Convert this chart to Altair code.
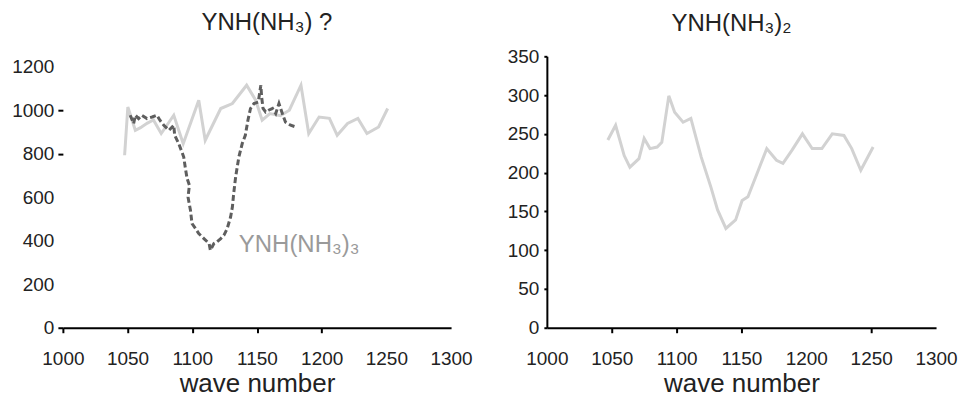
import altair as alt
import pandas as pd

# Left panel: YNH(NH3) ? (light gray solid)
left_light_x = [1047.7, 1050.2, 1056, 1060, 1065, 1070, 1076, 1085.7, 1093, 1105, 1110, 1122, 1131, 1142, 1149, 1154, 1160, 1168, 1175, 1184, 1190, 1198, 1206, 1212, 1220, 1228, 1235, 1244, 1251]
left_light_y = [793, 1015, 908, 920, 940, 955, 893, 977, 846, 1046, 862, 1008, 1031, 1115, 1046, 954, 985, 975, 1000, 1115, 893, 969, 963, 885, 939, 962, 893, 923, 1008]

# Left panel: YNH(NH3)3 (dark dashed)
left_dark_x = [1052, 1054.7, 1056, 1058.5, 1061, 1065, 1069, 1072.7, 1075, 1078, 1082, 1085.7, 1086.4, 1089.5, 1092, 1093.4, 1094.7, 1096, 1097.8, 1096.7, 1098.6, 1099.8, 1102.5, 1105, 1109, 1113, 1114, 1116.7, 1119, 1122, 1124.4, 1127, 1129.6, 1131, 1132, 1133.5, 1136, 1138.6, 1141, 1143, 1145, 1147.7, 1151, 1153, 1153.6, 1154.7, 1156.7, 1159, 1162, 1164.5, 1167, 1169.6, 1172, 1176, 1180]
left_dark_y = [977, 939, 977, 962, 977, 962, 969, 977, 954, 931, 908, 931, 885, 847, 808, 785, 732, 686, 655, 601, 540, 479, 456, 433, 410, 387, 356, 387, 395, 410, 425, 456, 509, 555, 617, 693, 785, 847, 885, 954, 1008, 1031, 1038, 1115, 1061, 1008, 992, 1000, 1008, 985, 1031, 985, 946, 931, 923]

# Right panel: YNH(NH3)2
right_x = [1047, 1053, 1059.6, 1064, 1071, 1075, 1079.5, 1085, 1088.6, 1094, 1098.5, 1105, 1111, 1119, 1126.5, 1131.6, 1138, 1145.5, 1150.5, 1155, 1163, 1169.5, 1177, 1182, 1189, 1197, 1204.5, 1212, 1220, 1229, 1235, 1242, 1251.5]
right_y = [242, 261, 222, 207, 218, 244, 231, 233, 239, 299, 278, 265, 270, 220, 181, 152, 128, 139, 164, 169, 203, 231, 216, 212, 229, 250, 231, 231, 250, 248, 231, 203, 233]

left_title = "YNH(NH₃) ?"
right_title = "YNH(NH₃)₂"
annot_text = ["YNH(NH₃)₃"]
annot_x = [1136]
annot_y = [379]

x_ticks = [1000, 1050, 1100, 1150, 1200, 1250, 1300]
left_y_ticks = [0, 200, 400, 600, 800, 1000, 1200]
right_y_ticks = [0, 50, 100, 150, 200, 250, 300, 350]

FONT = "Liberation Sans"
TXT = "#222222"

df_ll = pd.DataFrame({"x": left_light_x, "y": left_light_y, "i": range(len(left_light_x))})
df_ld = pd.DataFrame({"x": left_dark_x, "y": left_dark_y, "i": range(len(left_dark_x))})
df_r = pd.DataFrame({"x": right_x, "y": right_y, "i": range(len(right_x))})
df_a = pd.DataFrame({"x": annot_x, "y": annot_y, "t": annot_text})

def xaxis(show_test):
    return alt.Axis(
        values=x_ticks, format="d", title="wave number", grid=False,
        domainColor="black", domainWidth=2,
        tickColor=alt.condition(show_test, alt.value("black"), alt.value("transparent")),
        tickWidth=2, tickSize=5, labelFlush=False, labelOverlap=False,
        labelFont=FONT, labelFontSize=19, labelColor=TXT, labelPadding=17,
        titleFont=FONT, titleFontSize=26, titleFontWeight="normal", titleColor=TXT, titlePadding=2,
    )

xl = alt.X("x:Q", scale=alt.Scale(domain=[1000, 1300], nice=False),
           axis=xaxis("datum.value <= 1200"))
yl = alt.Y("y:Q", scale=alt.Scale(domain=[0, 1248], nice=False),
           axis=alt.Axis(values=left_y_ticks, format="d", title=None, grid=False, domain=False,
                         tickColor=alt.condition("datum.value == 800 || datum.value == 1000 || datum.value == 0",
                                                 alt.value("black"), alt.value("transparent")),
                         tickWidth=2, tickSize=5,
                         labelFont=FONT, labelFontSize=19, labelColor=TXT, labelPadding=4))

light = alt.Chart(df_ll).mark_line(color="#d2d2d2", strokeWidth=3).encode(x=xl, y=yl, order="i:Q")
dark = alt.Chart(df_ld).mark_line(color="#5e5e5e", strokeWidth=3, strokeDash=[6, 3]).encode(x=xl, y=yl, order="i:Q")
annot = alt.Chart(df_a).mark_text(align="left", baseline="middle", font=FONT, fontSize=24, color="#9a9a9a").encode(
    x=xl, y=yl, text="t:N")

left = alt.layer(light, dark, annot).properties(
    width=389, height=272,
    title=alt.TitleParams(left_title, font=FONT, fontSize=24, fontWeight="normal", color=TXT, offset=21, dx=10),
)

xr = alt.X("x:Q", scale=alt.Scale(domain=[1000, 1300], nice=False),
           axis=xaxis("datum.value == 1050 || datum.value == 1100 || datum.value == 1150 || datum.value == 1250"))
yr = alt.Y("y:Q", scale=alt.Scale(domain=[0, 350], nice=False),
           axis=alt.Axis(values=right_y_ticks, format="d", title=None, grid=False,
                         domainColor="black", domainWidth=2, tickColor="black", tickWidth=2, tickSize=3,
                         labelFont=FONT, labelFontSize=19, labelColor=TXT, labelPadding=5))

right = alt.Chart(df_r).mark_line(color="#d2d2d2", strokeWidth=3).encode(x=xr, y=yr, order="i:Q").properties(
    width=390, height=272,
    title=alt.TitleParams(right_title, font=FONT, fontSize=24, fontWeight="normal", color=TXT, offset=11, dx=-10),
)

chart = alt.hconcat(left, right, spacing=34).properties(
    padding={"left": 3, "top": 3, "right": 0, "bottom": 0}
).configure_view(stroke=None)

chart.save("out.html", embed_options={"renderer": "svg", "actions": False})
